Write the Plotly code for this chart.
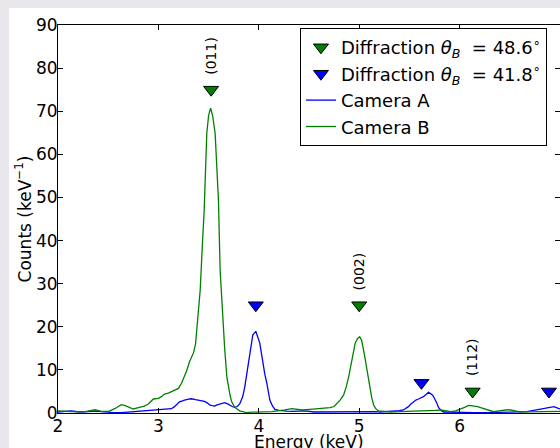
import plotly.graph_objects as go

# Camera B spectrum (green)
energy_b = [2.00, 2.07, 2.13, 2.20, 2.27, 2.33, 2.37, 2.43, 2.50, 2.565, 2.60, 2.63, 2.67, 2.70, 2.75,
            2.81, 2.86, 2.90, 2.95, 3.00, 3.03, 3.06, 3.10, 3.13, 3.17, 3.20, 3.23, 3.25, 3.28, 3.31,
            3.35, 3.37, 3.39, 3.416, 3.44, 3.456, 3.482, 3.50, 3.52, 3.54, 3.565, 3.58, 3.598, 3.615,
            3.642, 3.66, 3.682, 3.70, 3.715, 3.73, 3.76, 3.78, 3.81, 3.85, 3.88, 3.93, 3.99, 4.05,
            4.13, 4.20, 4.26, 4.33, 4.38, 4.43, 4.51, 4.61, 4.71, 4.75, 4.78, 4.81, 4.845, 4.87, 4.895,
            4.93, 4.96, 4.985, 5.005, 5.025, 5.045, 5.06, 5.078, 5.095, 5.11, 5.125, 5.144, 5.165,
            5.19, 5.25, 5.31, 5.41, 5.50, 5.58, 5.65, 5.71, 5.76, 5.81, 5.86, 5.91, 5.96, 6.01, 6.05,
            6.09, 6.12, 6.14, 6.18, 6.21, 6.24, 6.27, 6.31, 6.34, 6.39, 6.44, 6.48, 6.51, 6.56, 6.61,
            6.67, 6.74, 6.80, 6.87, 6.93, 7.00]
counts_b = [0.46, 0.35, 0.30, 0.25, 0.30, 0.55, 0.77, 0.40, 0.35, 1.00, 1.50, 1.93, 1.70, 1.47, 0.93,
            1.30, 1.60, 2.09, 3.25, 3.40, 3.80, 4.40, 4.60, 4.95, 5.30, 5.70, 6.90, 8.00, 9.70, 11.9,
            14.0, 16.0, 21.0, 28.4, 40.0, 47.0, 64.9, 69.0, 70.7, 69.0, 64.9, 58.0, 49.4, 33.0,
            20.6, 15.0, 8.3, 5.5, 4.0, 2.6, 1.3, 1.0, 0.5, 0.25, 0.10, 0.20, 0.30, 0.25,
            0.30, 0.45, 0.70, 1.00, 0.80, 0.70, 0.85, 1.00, 1.24, 1.50, 2.25, 3.00, 4.20, 6.00, 8.40,
            12.3, 16.2, 17.3, 17.7, 16.8, 14.6, 12.5, 9.96, 7.50, 5.30, 3.50, 1.86, 1.00,
            0.50, 0.30, 0.23, 0.30, 0.35, 0.40, 0.50, 0.46, 0.60, 0.70, 0.50, 0.30, 0.50, 0.85, 1.30,
            1.78, 1.70, 1.60, 1.50, 1.24, 1.00, 0.70, 0.45, 0.30, 0.50, 0.70, 0.75, 0.70, 0.45, 0.20,
            0.25, 0.30, 0.40, 0.46, 0.45, 0.40]

# Camera A spectrum (blue)
energy_a = [2.00, 2.06, 2.13, 2.18, 2.23, 2.30, 2.37, 2.43, 2.50, 2.56, 2.63, 2.70, 2.76, 2.83, 2.90,
            2.95, 3.00, 3.05, 3.10, 3.13, 3.16, 3.19, 3.21, 3.24, 3.26, 3.30, 3.33, 3.37, 3.40, 3.43,
            3.46, 3.49, 3.51, 3.535, 3.56, 3.585, 3.61, 3.64, 3.66, 3.69, 3.71, 3.735, 3.76, 3.785,
            3.81, 3.825, 3.84, 3.86, 3.88, 3.895, 3.91, 3.925, 3.94, 3.97, 3.99, 4.01, 4.025, 4.04,
            4.06, 4.08, 4.095, 4.11, 4.135, 4.16, 4.20, 4.23, 4.28, 4.33, 4.40, 4.46, 4.55, 4.65,
            4.75, 4.85, 4.95, 5.02, 5.08, 5.15, 5.21, 5.28, 5.34, 5.40, 5.44, 5.47, 5.49, 5.515,
            5.54, 5.565, 5.59, 5.615, 5.64, 5.665, 5.69, 5.71, 5.73, 5.745, 5.76, 5.775, 5.79, 5.815,
            5.84, 5.90, 5.97, 6.05, 6.14, 6.24, 6.34, 6.44, 6.54, 6.60, 6.67, 6.72, 6.76, 6.79, 6.81,
            6.84, 6.87, 6.91, 6.94, 6.97, 7.00]
counts_a = [0.23, 0.40, 0.50, 0.35, 0.23, 0.30, 0.46, 0.30, 0.15, 0.10, 0.08, 0.20, 0.40, 0.50, 0.60,
            0.65, 0.70, 0.75, 0.85, 1.00, 1.47, 2.20, 2.60, 2.80, 3.00, 3.20, 3.30, 3.10, 3.00, 2.80,
            2.70, 2.30, 1.86, 1.70, 1.63, 1.90, 2.10, 2.30, 2.40, 2.10, 1.78, 1.50, 1.30, 1.50,
            2.10, 2.80, 3.80, 6.00, 9.10, 12.0, 14.6, 16.8, 18.1, 18.95, 17.8, 16.2, 14.0, 11.5,
            9.00, 6.90, 4.80, 3.00, 1.70, 0.85, 0.60, 0.50, 0.45, 0.40, 0.45, 0.50, 0.23, 0.25,
            0.30, 0.25, 0.23, 0.30, 0.40, 0.30, 0.23, 0.30, 0.40, 0.55, 0.70, 1.10, 1.47, 2.10,
            2.60, 3.00, 3.25, 3.50, 3.80, 4.30, 4.80, 4.50, 4.20, 3.60, 3.00, 2.20, 1.30, 0.60,
            0.23, 0.18, 0.15, 0.10, 0.08, 0.08, 0.08, 0.15, 0.23, 0.25, 0.30, 0.50, 0.70, 0.80, 0.85,
            1.00, 1.24, 1.30, 1.47, 1.20, 0.93]

# Diffraction line positions
diff_486_energy = [3.525, 5.0, 6.13]
diff_486_level = [75, 25, 5]
diff_486_labels = ["(011)", "(002)", "(112)"]
diff_418_energy = [3.97, 5.62, 6.89]
diff_418_level = [25, 7, 5]

FONT = "DejaVu Sans"
GREEN = "#008000"
BLUE = "#0000ff"

fig = go.Figure()

fig.add_trace(go.Scatter(
    x=energy_a, y=counts_a, mode="lines", name="Camera A",
    line=dict(color=BLUE, width=1.3), legendrank=3))
fig.add_trace(go.Scatter(
    x=energy_b, y=counts_b, mode="lines", name="Camera B",
    line=dict(color=GREEN, width=1.3), legendrank=4))
fig.add_trace(go.Scatter(
    x=diff_486_energy, y=diff_486_level, mode="markers",
    name="Diffraction <i>θ</i><sub><i>B</i></sub>  = 48.6<sup>∘</sup>",
    marker=dict(symbol="triangle-down", size=13, color=GREEN,
                line=dict(color="black", width=1)), legendrank=1))
fig.add_trace(go.Scatter(
    x=diff_418_energy, y=diff_418_level, mode="markers",
    name="Diffraction <i>θ</i><sub><i>B</i></sub>  = 41.8<sup>∘</sup>",
    marker=dict(symbol="triangle-down", size=13, color=BLUE,
                line=dict(color="black", width=1)), legendrank=2))

for e, lvl, lab in zip(diff_486_energy, diff_486_level, diff_486_labels):
    fig.add_annotation(x=e, y=lvl, text=lab, showarrow=False, textangle=-90,
                       yshift=34, font=dict(family=FONT, size=14, color="black"))

# x-axis title, set just below the tick labels
fig.add_annotation(x=0.5, y=0, xref="paper", yref="paper", text="Energy (keV)",
                   showarrow=False, xanchor="center", yanchor="middle", yshift=-29,
                   font=dict(family=FONT, size=17, color="black"))

# white figure panel over the light frame
fig.add_shape(type="rect", xref="paper", yref="paper", x0=-0.0976, x1=1.2, y0=-0.3, y1=1.0438,
              fillcolor="white", line=dict(width=0), layer="below")

axis_common = dict(showline=True, linecolor="black", linewidth=1, mirror="ticks",
                   ticks="inside", ticklen=5, tickcolor="black", showgrid=False,
                   zeroline=False, tickfont=dict(family=FONT, size=17, color="black"),
                   automargin=False)

fig.update_xaxes(range=[2, 7], tickvals=[2, 3, 4, 5, 6, 7], ticklabelstandoff=-2,
                 **axis_common)
fig.update_yaxes(range=[0, 90], tickvals=[0, 10, 20, 30, 40, 50, 60, 70, 80, 90],
                 ticklabelstandoff=-4,
                 title=dict(text="Counts (keV<sup>−1</sup>)",
                            font=dict(family=FONT, size=17, color="black"), standoff=0),
                 **axis_common)

fig.update_layout(
    width=560, height=448,
    margin=dict(l=58, r=0, t=25, b=35),
    paper_bgcolor="#e9e6ec", plot_bgcolor="white",
    font=dict(family=FONT, size=17, color="black"),
    showlegend=True,
    legend=dict(x=0.482, y=0.992, xanchor="left", yanchor="top",
                bgcolor="white", bordercolor="black", borderwidth=1,
                font=dict(family=FONT, size=18, color="black"),
                itemwidth=30, tracegroupgap=0, traceorder="normal"),
)

fig.write_html("out.html")
